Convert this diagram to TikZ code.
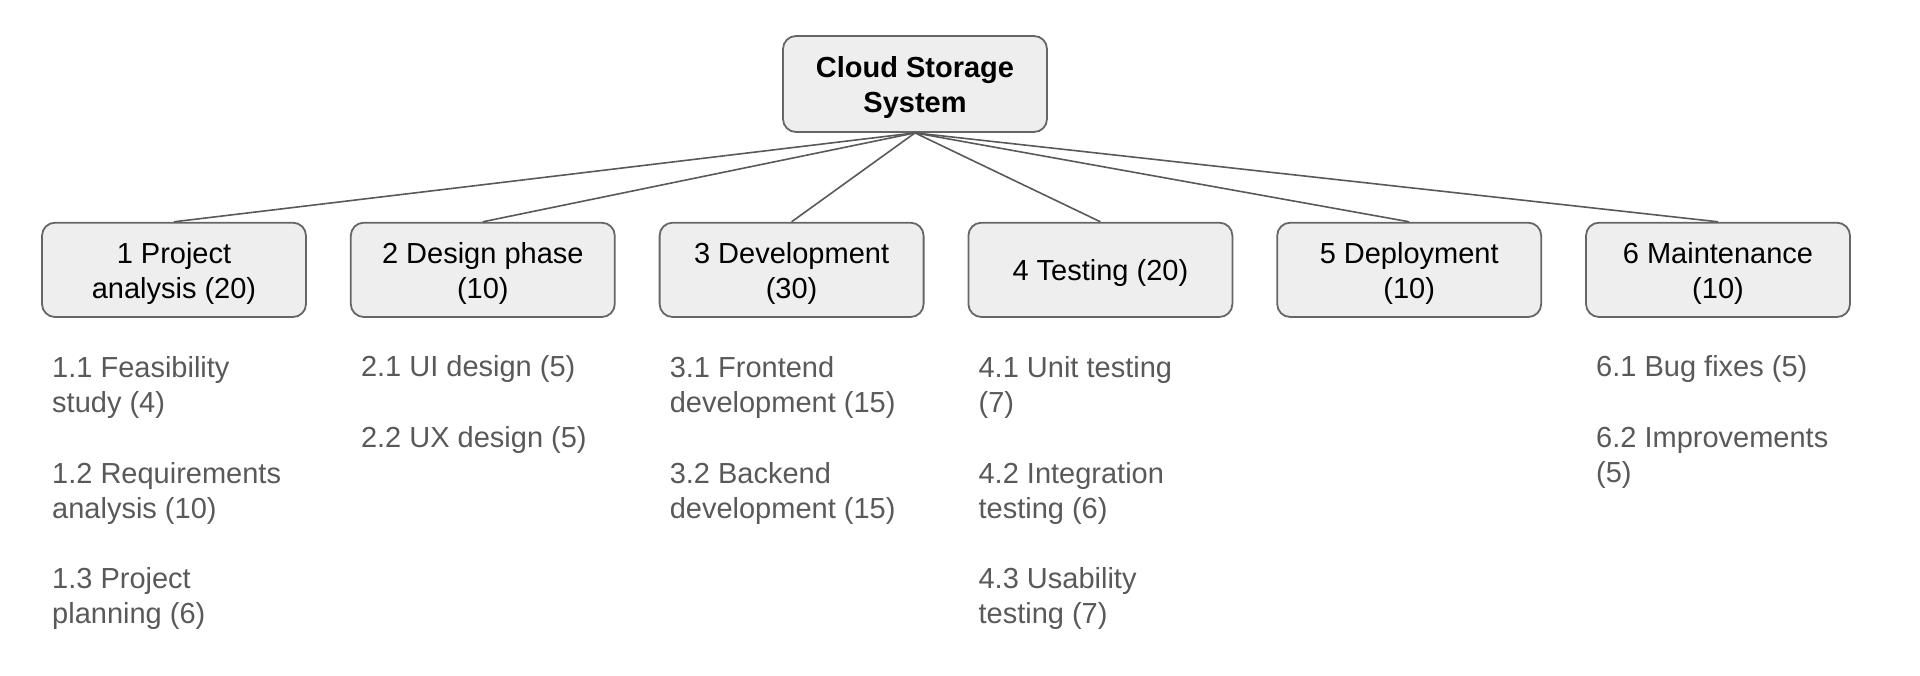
\documentclass[tikz,border=0pt]{standalone}
\usepackage{fontspec}
\setmainfont{Liberation Sans}
\definecolor{boxfill}{HTML}{EEEEEE}
\definecolor{boxline}{HTML}{666666}
\definecolor{linkcol}{HTML}{595959}
\definecolor{subcol}{HTML}{595959}
\newcommand{\topstrut}{\rule{0pt}{28pt}}
\tikzset{
  wbsbox/.style={draw=boxline, fill=boxfill, line width=1.8pt, rounded corners=13pt,
    minimum width=264pt, minimum height=94.3pt, inner sep=0pt, align=center,
    font=\fontsize{29}{35.5}\selectfont, text=black},
  rootbox/.style={wbsbox, minimum height=96pt, font=\fontsize{29}{35.5}\selectfont\bfseries},
  link/.style={draw=linkcol, line width=1.6pt},
  subitem/.style={anchor=base west, align=left, inner sep=0pt, text=subcol,
    font=\fontsize{29}{35.5}\selectfont}
}
\begin{document}
\begin{tikzpicture}[x=1pt,y=-1pt]
\useasboundingbox (0,0) rectangle (1920,676);
\node[rootbox] (root) at (915,84) {\topstrut Cloud Storage\\System};
\node[wbsbox] (b1) at (174,269.85) {\topstrut 1 Project\\analysis (20)};
\node[wbsbox] (b2) at (482.8,269.85) {\topstrut 2 Design phase\\(10)};
\node[wbsbox] (b3) at (791.6,269.85) {\topstrut 3 Development\\(30)};
\node[wbsbox] (b4) at (1100.4,269.85) {\topstrut 4 Testing (20)};
\node[wbsbox] (b5) at (1409.2,269.85) {\topstrut 5 Deployment\\(10)};
\node[wbsbox] (b6) at (1718,269.85) {\topstrut 6 Maintenance\\(10)};
\foreach \b in {b1,b2,b3,b4,b5,b6} \draw[link] (root.south) -- (\b.north);
\node[subitem] (s11) at (52,412.5) {1.1 Feasibility\\study (4)};
\node[subitem] (s12) at (52,518.5) {1.2 Requirements\\analysis (10)};
\node[subitem] (s13) at (52,623.5) {1.3 Project\\planning (6)};
\node[subitem] (s21) at (360.8,377) {2.1 UI design (5)};
\node[subitem] (s22) at (360.8,447) {2.2 UX design (5)};
\node[subitem] (s31) at (669.6,412.5) {3.1 Frontend\\development (15)};
\node[subitem] (s32) at (669.6,518.5) {3.2 Backend\\development (15)};
\node[subitem] (s41) at (978.4,412.5) {4.1 Unit testing\\(7)};
\node[subitem] (s42) at (978.4,518.5) {4.2 Integration\\testing (6)};
\node[subitem] (s43) at (978.4,623.5) {4.3 Usability\\testing (7)};
\node[subitem] (s61) at (1596,377) {6.1 Bug fixes (5)};
\node[subitem] (s62) at (1596,482.5) {6.2 Improvements\\(5)};
\end{tikzpicture}
\end{document}
